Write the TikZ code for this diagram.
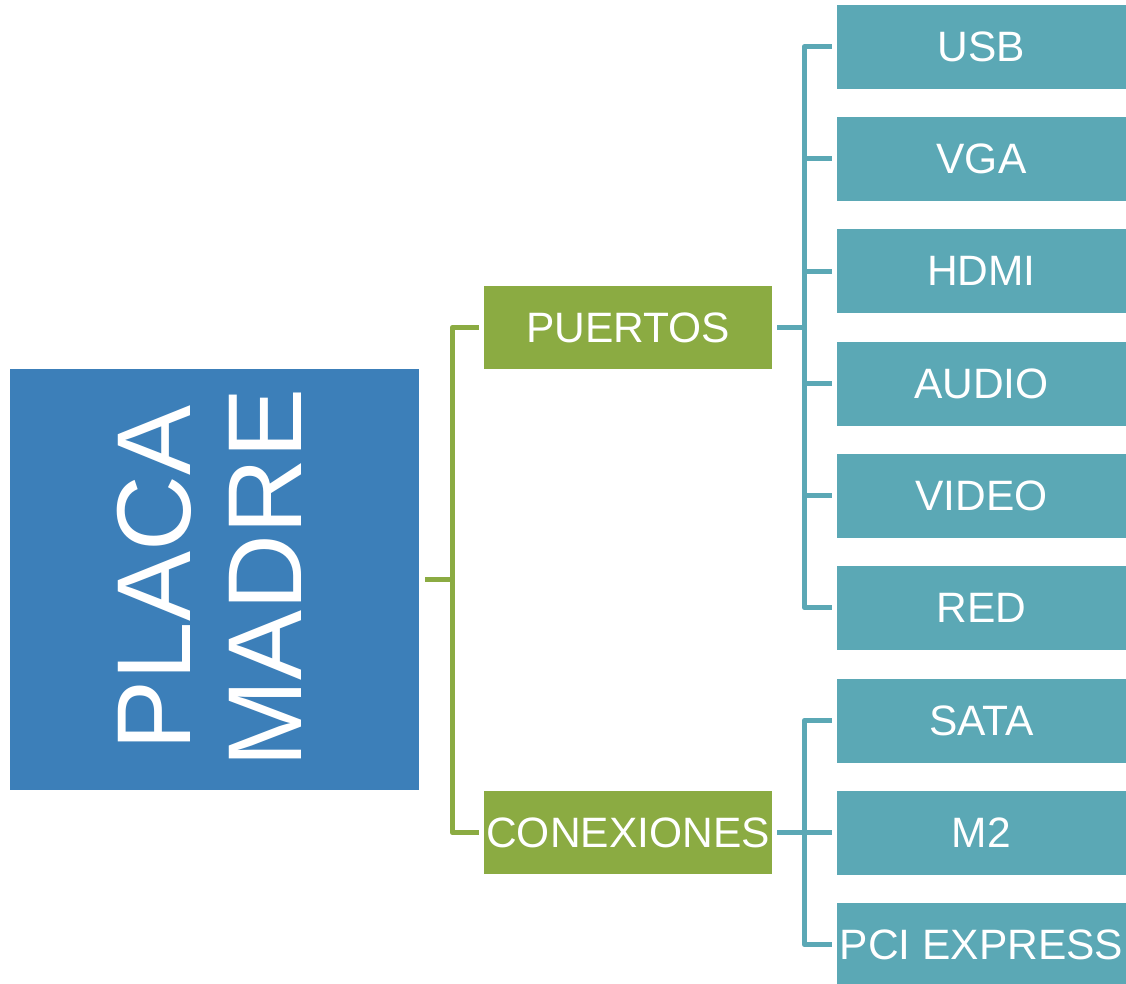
\documentclass[tikz,border=0pt]{standalone}
\usepackage{fontspec}
\setmainfont{Liberation Sans}
\definecolor{bigblue}{HTML}{3C7FB9}
\definecolor{lvlgreen}{HTML}{8BAB42}
\definecolor{leafteal}{HTML}{5BA8B5}
\begin{document}
\begin{tikzpicture}[x=1pt,y=-1pt,
  rootbox/.style={fill=bigblue,draw=none,minimum width=409pt,minimum height=421pt,inner sep=0pt},
  midbox/.style={fill=lvlgreen,draw=none,minimum width=288pt,minimum height=83pt,inner sep=0pt,text=white,font=\fontsize{42.5}{50}\selectfont},
  leafbox/.style={fill=leafteal,draw=none,minimum width=289pt,minimum height=84pt,inner sep=0pt,text=white,font=\fontsize{42.5}{50}\selectfont},
  gline/.style={draw=lvlgreen,line width=5pt,line join=round},
  tline/.style={draw=leafteal,line width=5pt,line join=round}]
\useasboundingbox (0,0) rectangle (1126,984);
% root
\node[rootbox] (root) at (214.5,579.5) {};
\node[rotate=90,inner sep=0pt,align=center,text=white,font=\fontsize{105}{111}\selectfont] (rootlabel) at (209,578) {PLACA\\MADRE};
% level 1
\node[midbox] (puertos) at (628,327.5) {PUERTOS};
\node[midbox] (conex) at (628,832.5) {CONEXIONES};
% leaves
\node[leafbox] (usb) at (981.5,47) {USB};
\node[leafbox] (vga) at (981.5,159) {VGA};
\node[leafbox] (hdmi) at (981.5,271) {HDMI};
\node[leafbox] (audio) at (981.5,383.5) {AUDIO};
\node[leafbox] (video) at (981.5,495.5) {VIDEO};
\node[leafbox] (red) at (981.5,607.5) {RED};
\node[leafbox] (sata) at (981.5,720.5) {SATA};
\node[leafbox] (mtwo) at (981.5,832.5) {M2};
\node[leafbox] (pci) at (981.5,944.5) {PCI EXPRESS};
% junctions
\coordinate (rj) at ([xshift=33pt]root.east);
\coordinate (pj) at ([xshift=32pt]puertos.east);
\coordinate (cj) at ([xshift=32pt]conex.east);
% green connectors
\draw[gline] ([xshift=6pt]root.east) -- (rj);
\draw[gline] ([xshift=-5pt]puertos.west) -| (rj) |- ([xshift=-5pt]conex.west);
% teal connectors (puertos)
\draw[tline] ([xshift=5pt]puertos.east) -- (pj);
\draw[tline] ([xshift=-5pt]usb.west) -| (pj) |- ([xshift=-5pt]red.west);
\draw[tline] (pj |- vga.west) -- ([xshift=-5pt]vga.west);
\draw[tline] (pj |- hdmi.west) -- ([xshift=-5pt]hdmi.west);
\draw[tline] (pj |- audio.west) -- ([xshift=-5pt]audio.west);
\draw[tline] (pj |- video.west) -- ([xshift=-5pt]video.west);
% teal connectors (conexiones)
\draw[tline] ([xshift=5pt]conex.east) -- (cj);
\draw[tline] ([xshift=-5pt]sata.west) -| (cj) |- ([xshift=-5pt]pci.west);
\draw[tline] (cj |- mtwo.west) -- ([xshift=-5pt]mtwo.west);
\end{tikzpicture}
\end{document}
